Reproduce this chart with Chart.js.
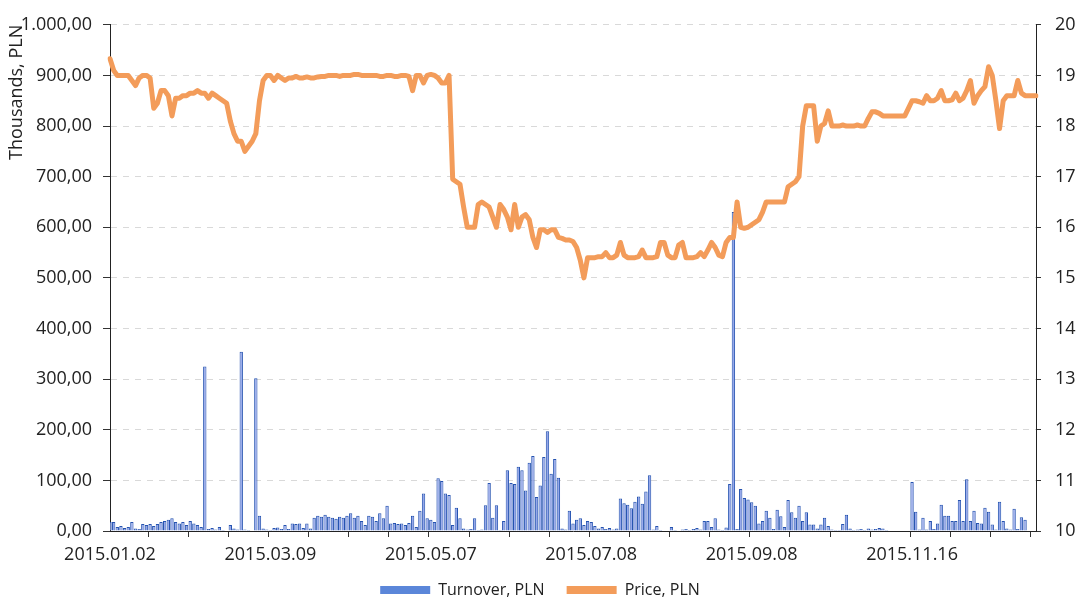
<!DOCTYPE html>
<html>
<head>
<meta charset="utf-8">
<script src="https://cdn.jsdelivr.net/npm/chart.js@4.4.0/dist/chart.umd.min.js"></script>
<style>
  html, body { margin: 0; padding: 0; background: #fff; }
</style>
</head>
<body>
<canvas id="turnoverChart" width="1080" height="601"></canvas>
<script>
// x-axis tick labels, one every 44 sessions
var tickLabels = ['2015.01.02', '2015.03.09', '2015.05.07', '2015.07.08', '2015.09.08', '2015.11.16'];
var labelStep = 44;
var minorStep = 11;

// turnover, thousands PLN (one value per session)
var turnover = [
    18, 18, 8, 10, 6, 8, 18, 5, 4, 14,
    12, 14, 10, 14, 18, 20, 22, 25, 18, 15,
    18, 12, 20, 15, 12, 8, 325, 4, 6, 3,
    8, 2, 0, 12, 5, 3, 354, 3, 2, 0,
    302, 30, 5, 3, 2, 6, 7, 4, 12, 4,
    15, 14, 15, 6, 15, 5, 26, 30, 28, 32,
    28, 26, 24, 28, 26, 30, 35, 26, 30, 20,
    12, 30, 28, 20, 35, 25, 50, 15, 16, 14,
    15, 12, 16, 30, 8, 40, 74, 25, 22, 18,
    104, 99, 74, 71, 12, 46, 25, 5, 3, 4,
    25, 2, 3, 51, 95, 26, 51, 2, 20, 120,
    95, 93, 127, 120, 80, 135, 148, 67, 90, 146,
    197, 113, 142, 105, 5, 3, 40, 15, 22, 25,
    12, 20, 18, 10, 5, 8, 4, 6, 3, 5,
    64, 55, 52, 45, 58, 68, 54, 78, 110, 3,
    10, 2, 0, 0, 8, 2, 0, 3, 4, 2,
    4, 6, 3, 20, 20, 8, 25, 3, 2, 7,
    93, 630, 4, 83, 65, 62, 57, 50, 15, 20,
    40, 26, 4, 42, 29, 8, 61, 37, 26, 50,
    20, 37, 13, 13, 5, 13, 26, 10, 3, 2,
    2, 14, 32, 5, 2, 3, 4, 2, 5, 3,
    4, 6, 5, 2, 0, 0, 0, 0, 0, 0,
    97, 38, 3, 26, 3, 20, 4, 15, 52, 30,
    30, 20, 20, 61, 20, 102, 20, 40, 16, 15,
    46, 38, 13, 3, 58, 20, 5, 3, 44, 4,
    27, 22, 0, 0, 0
];

// closing price, PLN
var price = [
    19.33, 19.1, 19.0, 19.0, 19.0, 19.0, 18.9, 18.8, 18.95, 19.0,
    19.0, 18.95, 18.35, 18.45, 18.7, 18.7, 18.6, 18.2, 18.55, 18.55,
    18.6, 18.6, 18.65, 18.65, 18.7, 18.65, 18.65, 18.55, 18.65, 18.6,
    18.55, 18.5, 18.45, 18.1, 17.85, 17.7, 17.7, 17.5, 17.6, 17.7,
    17.85, 18.5, 18.9, 19.0, 19.0, 18.9, 19.0, 18.95, 18.9, 18.95,
    18.95, 18.98, 18.95, 18.95, 18.97, 18.95, 18.95, 18.97, 18.98, 18.98,
    19.0, 19.0, 19.0, 18.98, 19.0, 19.0, 19.0, 19.02, 19.02, 19.0,
    19.0, 19.0, 19.0, 19.0, 18.98, 18.98, 19.0, 19.0, 18.98, 18.98,
    19.0, 19.0, 18.98, 18.7, 19.0, 19.0, 18.85, 19.0, 19.02, 19.0,
    18.95, 18.85, 18.85, 19.0, 16.95, 16.9, 16.85, 16.4, 16.0, 16.0,
    16.0, 16.45, 16.5, 16.45, 16.4, 16.2, 16.0, 16.45, 16.35, 16.2,
    15.95, 16.45, 16.0, 16.2, 16.25, 16.15, 15.8, 15.6, 15.95, 15.95,
    15.9, 15.95, 15.95, 15.8, 15.78, 15.75, 15.75, 15.72, 15.6, 15.35,
    15.0, 15.4, 15.4, 15.4, 15.42, 15.42, 15.5, 15.4, 15.4, 15.45,
    15.7, 15.45, 15.4, 15.4, 15.4, 15.42, 15.55, 15.4, 15.4, 15.4,
    15.42, 15.7, 15.7, 15.45, 15.4, 15.4, 15.65, 15.7, 15.4, 15.4,
    15.4, 15.42, 15.5, 15.42, 15.55, 15.7, 15.6, 15.45, 15.42, 15.7,
    15.8, 15.8, 16.5, 16.0, 15.98, 16.0, 16.05, 16.1, 16.15, 16.3,
    16.5, 16.5, 16.5, 16.5, 16.5, 16.5, 16.8, 16.85, 16.9, 17.0,
    18.0, 18.4, 18.4, 18.4, 17.7, 18.0, 18.05, 18.3, 18.0, 18.0,
    18.0, 18.02, 18.0, 18.0, 18.0, 18.02, 18.0, 18.0, 18.15, 18.28,
    18.28, 18.25, 18.2, 18.2, 18.2, 18.2, 18.2, 18.2, 18.2, 18.35,
    18.5, 18.5, 18.48, 18.45, 18.6, 18.5, 18.5, 18.55, 18.7, 18.5,
    18.5, 18.52, 18.65, 18.5, 18.55, 18.7, 18.9, 18.45, 18.6, 18.7,
    18.78, 19.17, 19.0, 18.5, 17.95, 18.5, 18.6, 18.6, 18.6, 18.9,
    18.65, 18.6, 18.6, 18.6, 18.6
];

var sessions = turnover.map(function (v, i) { return i; });

function formatPl(v) {
    var parts = v.toFixed(2).split('.');
    parts[0] = parts[0].replace(/\B(?=(\d{3})+(?!\d))/g, '.');
    return parts[0] + ',' + parts[1];
}

var tickFont = { family: 'Open Sans', size: 18 };
var textColor = '#222';
var legendColors = ['#5b86d9', '#f39c5a'];

var ctx = document.getElementById('turnoverChart').getContext('2d');
var chart = new Chart(ctx, {
    type: 'bar',
    data: {
        labels: sessions,
        datasets: [{
            type: 'bar',
            label: 'Turnover, PLN',
            data: turnover,
            yAxisID: 'y',
            backgroundColor: '#95a7ea',
            borderColor: '#2553b0',
            borderWidth: 1,
            barPercentage: 1.0,
            categoryPercentage: 0.92,
            order: 2
        }, {
            type: 'line',
            label: 'Price, PLN',
            data: price,
            yAxisID: 'y1',
            borderColor: '#f39c5a',
            backgroundColor: '#f39c5a',
            borderWidth: 5,
            pointRadius: 0,
            tension: 0,
            borderJoinStyle: 'round',
            borderCapStyle: 'round',
            order: 1
        }]
    },
    options: {
        responsive: false,
        animation: false,
        layout: { padding: { top: 23, left: 0, right: 0, bottom: -7 } },
        plugins: {
            tooltip: { enabled: false },
            legend: {
                position: 'bottom',
                labels: {
                    color: textColor,
                    font: { family: 'Open Sans', size: 16 },
                    boxWidth: 50,
                    boxHeight: 8,
                    padding: 22,
                    sort: function (a, b) { return a.datasetIndex - b.datasetIndex; },
                    generateLabels: function (chart) {
                        var items = Chart.defaults.plugins.legend.labels.generateLabels(chart);
                        items.forEach(function (it) {
                            it.fillStyle = legendColors[it.datasetIndex];
                            it.lineWidth = 0;
                            it.strokeStyle = 'rgba(0,0,0,0)';
                        });
                        return items;
                    }
                }
            }
        },
        scales: {
            x: {
                offset: false,
                grid: {
                    drawOnChartArea: false,
                    tickLength: 6,
                    tickColor: function (c) { return c.index % minorStep === 0 ? '#333' : 'rgba(0,0,0,0)'; }
                },
                border: { color: '#222', width: 1 },
                ticks: {
                    autoSkip: false,
                    maxRotation: 0,
                    padding: 7,
                    color: textColor,
                    font: tickFont,
                    callback: function (val, i) {
                        return i % labelStep === 0 ? (tickLabels[i / labelStep] || '') : '';
                    }
                },
                afterFit: function (scale) { scale.height = 29; }
            },
            y: {
                position: 'left',
                min: 0,
                max: 1000,
                ticks: {
                    stepSize: 100,
                    padding: 11,
                    color: textColor,
                    font: tickFont,
                    callback: function (v) { return formatPl(v); }
                },
                grid: {
                    color: '#d9d9d9',
                    tickColor: '#333',
                    tickLength: 7,
                    tickBorderDash: [],
                    lineWidth: 1
                },
                border: { color: '#222', width: 1, dash: [6, 6] },
                title: {
                    display: true,
                    text: 'Thousands, PLN',
                    align: 'end',
                    color: textColor,
                    font: { family: 'Open Sans', size: 18 },
                    padding: { top: 6, bottom: 0 }
                },
                afterFit: function (scale) { scale.width = 110; }
            },
            y1: {
                position: 'right',
                min: 10,
                max: 20,
                ticks: {
                    stepSize: 1,
                    padding: 14,
                    color: textColor,
                    font: tickFont
                },
                grid: {
                    drawOnChartArea: false,
                    tickColor: '#333',
                    tickLength: 5
                },
                border: { color: '#222', width: 1 },
                afterFit: function (scale) { scale.width = 44; }
            }
        }
    }
});
</script>
</body>
</html>
